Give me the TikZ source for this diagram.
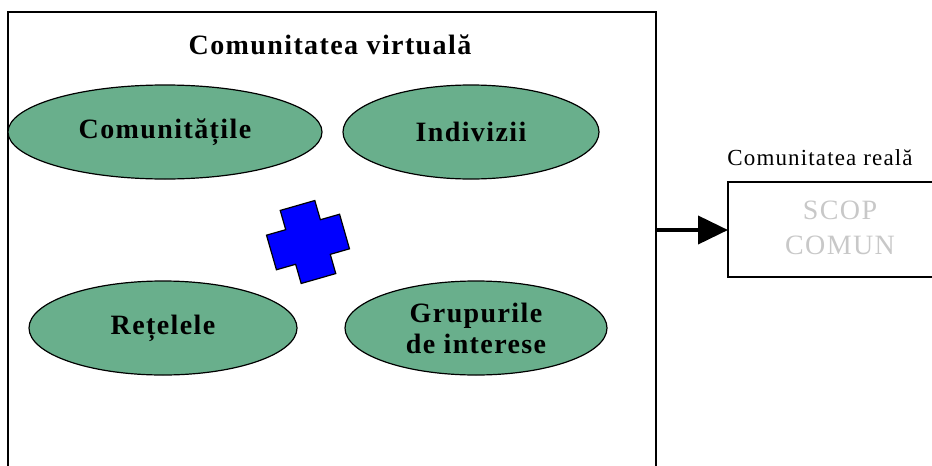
\documentclass[tikz,border=0pt]{standalone}
\usepackage{fontspec}
\setmainfont{Liberation Serif}
\newfontfamily\lblfont[LetterSpace=5]{Liberation Serif}
\usetikzlibrary{arrows.meta,shapes.geometric}
\definecolor{ellgreen}{RGB}{105,175,140}
\definecolor{crossblue}{RGB}{0,0,255}
\definecolor{scopgray}{RGB}{200,200,200}
\tikzset{
  bubble/.style={ellipse, draw=black, line width=1.2pt, fill=ellgreen, inner sep=0pt,
    font=\lblfont\fontsize{28}{31}\selectfont\bfseries, align=center},
  frame/.style={draw=black, line width=2pt},
  smalltitle/.style={font=\lblfont\fontsize{23}{25}\selectfont, inner sep=0pt},
}
\begin{document}
\begin{tikzpicture}[x=1pt,y=-1pt]
\useasboundingbox (0,0) rectangle (932,466);
% main frame (bottom edge outside the picture)
\draw[frame] (8,480) -- (8,12) -- (656,12) -- (656,480);
\coordinate (frameR) at (656,230);
\node[font=\lblfont\fontsize{28}{30}\selectfont\bfseries, inner sep=0pt] (title) at (330,45) {Comunitatea virtuală};
% ellipses
\node[bubble, minimum width=314pt, minimum height=94pt] (comm) at (165,132) {Comunitățile};
\node[bubble, minimum width=256pt, minimum height=94pt] (indiv) at (471,132) {Indivizii};
\node[bubble, minimum width=268pt, minimum height=94pt] (retele) at (163,328) {Rețelele};
\node[bubble, minimum width=262pt, minimum height=94pt] (grup) at (476,328) {Grupurile\\de interese};
% blue cross
\begin{scope}[shift={(308,242)}, rotate=16]
\draw[fill=crossblue, line width=1.2pt]
  (-18,-38) -- (18,-38) -- (18,-18) -- (38,-18) -- (38,18) -- (18,18) -- (18,38)
  -- (-18,38) -- (-18,18) -- (-38,18) -- (-38,-18) -- (-18,-18) -- cycle;
\end{scope}
% real community box
\node[smalltitle] (reallbl) at (820,158) {Comunitatea reală};
\draw[line width=1.5pt] (960,182) -- (728,182) -- (728,277) -- (960,277);
\coordinate (boxL) at (728,230);
\node[inner sep=0pt, text=scopgray, align=center, font=\lblfont\fontsize{28}{35}\selectfont] (scop) at (840,228) {SCOP\\COMUN};
% arrow
\draw[line width=4pt, -{Triangle[length=30pt,width=28pt]}] (frameR) -- (boxL);
\end{tikzpicture}
\end{document}
